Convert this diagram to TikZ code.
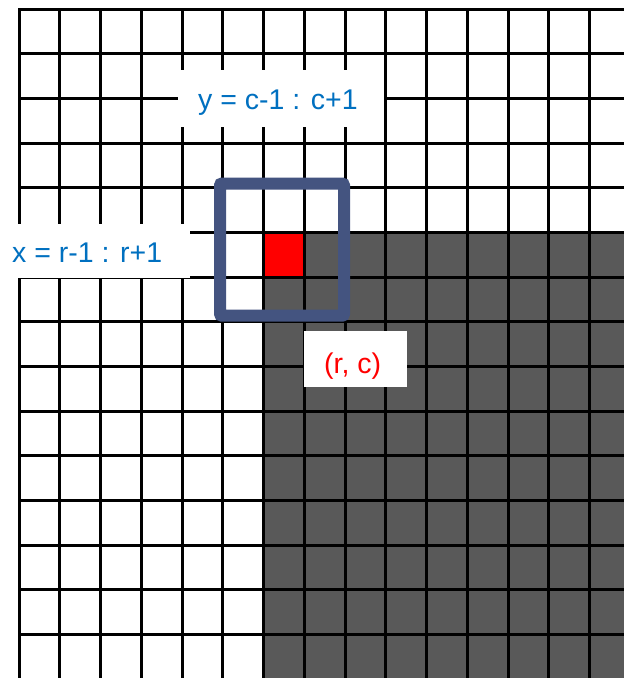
\documentclass[tikz,border=0pt]{standalone}
\usepackage{fontspec}
\setmainfont{Liberation Sans}
\definecolor{cellgray}{RGB}{89,89,89}
\definecolor{cellred}{RGB}{255,0,0}
\definecolor{winblue}{RGB}{68,84,128}
\definecolor{txtblue}{RGB}{0,112,192}
\tikzset{
  gridline/.style={draw=black, line width=3pt, line cap=rect},
  labbox/.style={fill=white, draw=none, inner sep=0pt},
  labtext/.style={anchor=base west, inner sep=0pt, font=\fontsize{28.5}{33}\selectfont},
  winbox/.style={draw=winblue, line width=12pt, rounded corners=2pt, inner sep=0pt}
}
\begin{document}
\begin{tikzpicture}[x=1pt,y=-1pt]
\useasboundingbox (0,0) rectangle (624,678);
\fill[white] (0,0) rectangle (624,678);
\begin{scope}
  \clip (0,0) rectangle (624,678);
  \fill[cellgray] (263.5,232.5) rectangle (640,690);
  \fill[cellred] (263.5,232.5) rectangle (304.25,277.15);
  \foreach \k in {0,...,15}
    \draw[gridline] ({19+40.75*\k},9.3) -- ({19+40.75*\k},690);
  \foreach \j in {0,...,15}
    \draw[gridline] (19,{9.3+44.65*\j}) -- (640,{9.3+44.65*\j});
\end{scope}
% label boxes
\node[labbox, minimum width=206pt, minimum height=57pt] (ybox) at (281,98.5) {};
\node[labbox, minimum width=190pt, minimum height=54pt] (xbox) at (95,251) {};
\node[labbox, minimum width=103pt, minimum height=56pt] (rcbox) at (355.5,359) {};
% neighbourhood window
\node[winbox, minimum width=124pt, minimum height=132.2pt] (win) at (282,249.6) {};
% texts
\node[labtext, text=txtblue] (ylab) at (198,109.3) {y = c-1 : c+1};
\node[labtext, text=txtblue] (xlab) at (12,262) {x = r-1 : r+1};
\node[labtext, text=cellred] (rclab) at (324,373) {(r, c)};
\end{tikzpicture}
\end{document}
